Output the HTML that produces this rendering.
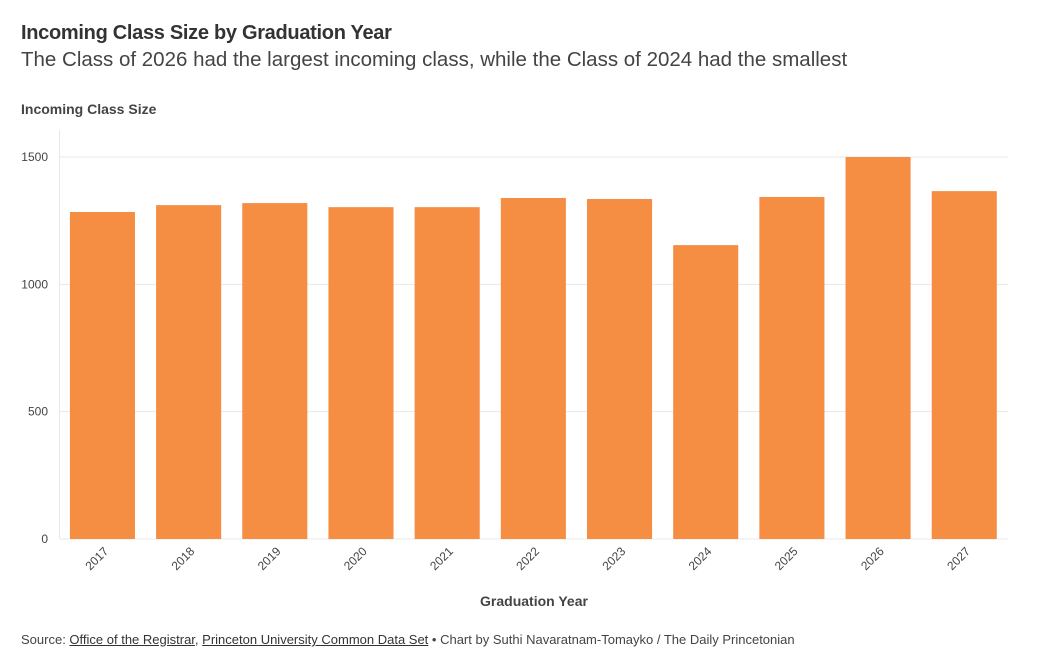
<!DOCTYPE html>
<html><head><meta charset="utf-8"><style>
body{margin:0;background:#fff;font-family:"Liberation Sans",sans-serif;color:#333}
#wrap{position:relative;width:1040px;height:670px;overflow:hidden}
.t{position:absolute;left:21px;white-space:nowrap}
a{color:#333;text-decoration:underline}
</style></head><body>
<div id="wrap">
<div class="t" style="top:22px;font-size:20px;letter-spacing:-0.3px;font-weight:bold;color:#333">Incoming Class Size by Graduation Year</div>
<div class="t" style="top:48px;font-size:20.5px;color:#444">The Class of 2026 had the largest incoming class, while the Class of 2024 had the smallest</div>
<div class="t" style="top:101px;font-size:14px;font-weight:bold;color:#444">Incoming Class Size</div>
<svg id="chart" width="1040" height="670" style="position:absolute;left:0;top:0"></svg>
<div class="t" style="top:632px;font-size:13px;color:#444">Source: <a>Office of the Registrar</a>, <a>Princeton University Common Data Set</a> • Chart by Suthi Navaratnam-Tomayko / The Daily Princetonian</div>
</div>
<script>
const categories=["2017","2018","2019","2020","2021","2022","2023","2024","2025","2026","2027"];
const values=[1284,1311,1319,1303,1303,1339,1335,1154,1343,1500,1366];
const yTicks=[0,500,1000,1500];
const NS="http://www.w3.org/2000/svg";
const svg=document.getElementById('chart');
const x0=60,x1=1008,y0=539,yTop=157,yMax=1500;
const bw=(x1-x0)/categories.length;
const y=v=>y0-(v/yMax)*(y0-yTop);
const xb=i=>x0+i*bw;
function mk(tag,a){const e=document.createElementNS(NS,tag);for(const k in a)e.setAttribute(k,a[k]);svg.appendChild(e);return e;}
yTicks.forEach(t=>{
  const l=mk('line',{x1:x0,x2:x1,y1:y(t),y2:y(t),stroke:'#e8e8e8','stroke-width':1});
  
  
  const tx=mk('text',{x:48,y:y(t)+4,'text-anchor':'end','font-size':12,fill:'#444','font-family':'Liberation Sans, sans-serif'});
  tx.textContent=t;
  
  
});
const ax=mk('line',{x1:x0-0.5,x2:x0-0.5,y1:130,y2:y0,stroke:'#e8e8e8'});


categories.forEach((c,i)=>{
  const r=mk('rect',{x:xb(i)+bw*0.115,y:y(values[i]),width:bw*0.755,height:y0-y(values[i]),fill:'#f58d42'});
  
  
  const cx=xb(i)+bw/2+6, cy=552;
  const t=mk('text',{x:cx,y:cy,'text-anchor':'end','font-size':12,fill:'#444','font-family':'Liberation Sans, sans-serif',transform:`rotate(-45 ${cx} ${cy})`});
  t.textContent=c;
  
  
});
const xt=mk('text',{x:534,y:606,'text-anchor':'middle','font-size':14,'font-weight':'bold',fill:'#444','font-family':'Liberation Sans, sans-serif'});
xt.textContent='Graduation Year';


</script>
</body></html>
